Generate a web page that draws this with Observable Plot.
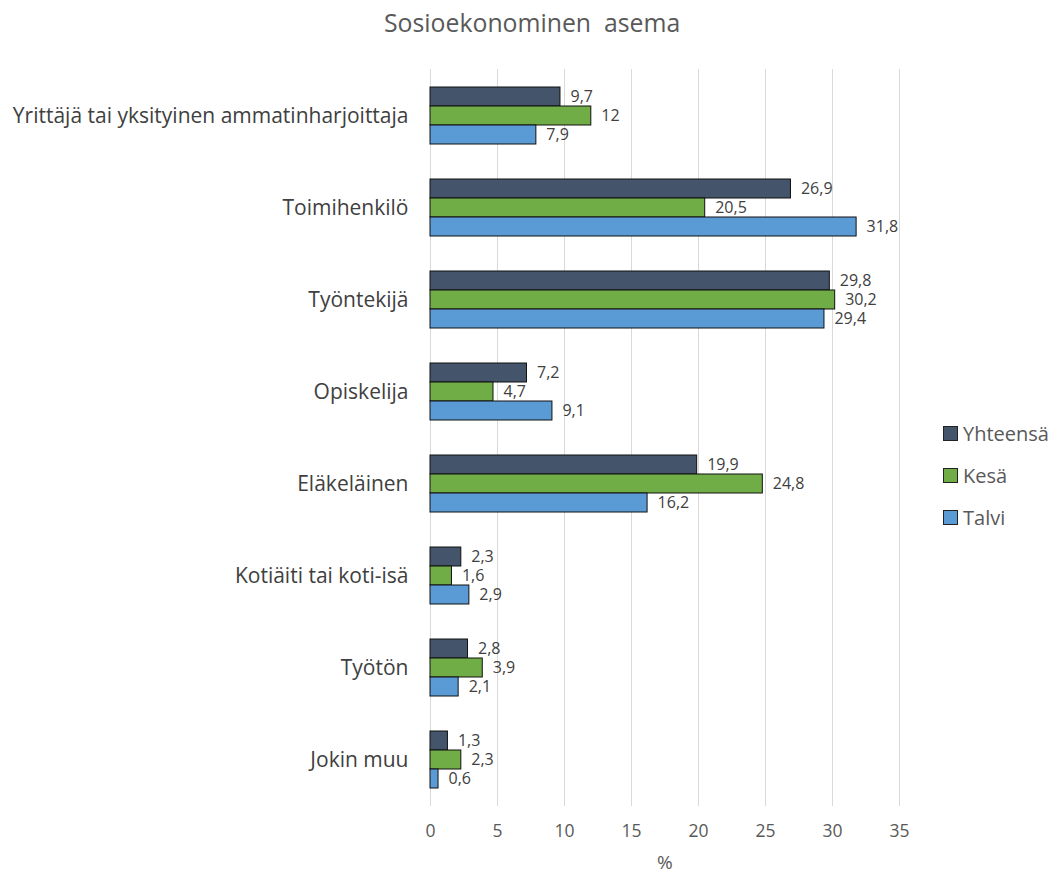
<!DOCTYPE html>
<html>
<head>
<meta charset="utf-8">
<script src="https://cdn.jsdelivr.net/npm/d3@7"></script>
<script src="https://cdn.jsdelivr.net/npm/@observablehq/plot@0.6"></script>
<style>
  body { margin: 0; background: #fff; font-family: "Open Sans", "Noto Sans", sans-serif; }
  #wrap { position: relative; width: 1054px; height: 876px; overflow: hidden; }
  #title { position: absolute; top: 5px; left: 384px; white-space: nowrap; font-size: 24.8px; color: #595959; }
  #legend { position: absolute; left: 943px; top: 412px; font-size: 20px; color: #595959; }
  #legend div { display: flex; align-items: center; height: 42px; white-space: nowrap; }
  #legend span.sw { display: inline-block; width: 13px; height: 13px; border: 1px solid #222; margin-right: 5px; }
  #xlabel { position: absolute; top: 849px; left: 657px; font-size: 19px; color: #595959; }
  #chart { position: absolute; left: 0; top: 0; }
</style>
</head>
<body>
<div id="wrap">
  <div id="chart"></div>
  <div id="title">Sosioekonominen&nbsp; asema</div>
  <div id="legend"></div>
  <div id="xlabel">%</div>
</div>
<script>
const categories = [
  "Yrittäjä tai yksityinen ammatinharjoittaja",
  "Toimihenkilö",
  "Työntekijä",
  "Opiskelija",
  "Eläkeläinen",
  "Kotiäiti tai koti-isä",
  "Työtön",
  "Jokin muu"
];
const series = ["Yhteensä", "Kesä", "Talvi"];
const colors = ["#44546A", "#70AD47", "#5B9BD5"];
const yhteensa = [9.7, 26.9, 29.8, 7.2, 19.9, 2.3, 2.8, 1.3];
const kesa = [12, 20.5, 30.2, 4.7, 24.8, 1.6, 3.9, 2.3];
const talvi = [7.9, 31.8, 29.4, 9.1, 16.2, 2.9, 2.1, 0.6];
const xTicks = [0, 5, 10, 15, 20, 25, 30, 35];

const valuesBySeries = [yhteensa, kesa, talvi];
const data = [];
categories.forEach((c, i) => {
  series.forEach((s, j) => {
    data.push({category: c, series: s, value: valuesBySeries[j][i]});
  });
});
const fmt = v => String(v).replace(".", ",");

const chart = Plot.plot({
  width: 1054,
  height: 876,
  marginTop: 67,
  marginBottom: 68,
  marginLeft: 430,
  marginRight: 155,
  style: {fontFamily: '"Open Sans", "Noto Sans", sans-serif', background: "#fff"},
  x: {domain: [0, 35]},
  y: {domain: series, padding: 0, axis: null},
  fy: {domain: categories, paddingInner: 0.385, paddingOuter: 0.19, axis: null},
  color: {domain: series, range: colors},
  marks: [
    Plot.ruleX(xTicks, {stroke: "#d9d9d9", strokeWidth: 1, insetTop: -18, insetBottom: -18}),
    Plot.barX(data, {x: "value", y: "series", fy: "category", fill: "series", stroke: "#111", strokeWidth: 1}),
    Plot.text(data, {x: "value", y: "series", fy: "category", text: d => fmt(d.value), dx: 10, textAnchor: "start", fontSize: 16, fill: "#404040"}),
    Plot.axisFy({anchor: "left", tickSize: 0, tickPadding: 22, fontSize: 21, color: "#404040", label: null}),
    Plot.axisX({ticks: xTicks, tickSize: 0, tickPadding: 36, fontSize: 17.5, color: "#595959", label: null, tickFormat: d => String(d)})
  ]
});
document.getElementById("chart").appendChild(chart);

const legend = document.getElementById("legend");
series.forEach((s, i) => {
  const row = document.createElement("div");
  const sw = document.createElement("span");
  sw.className = "sw";
  sw.style.background = colors[i];
  row.appendChild(sw);
  row.appendChild(document.createTextNode(s));
  legend.appendChild(row);
});
</script>
</body>
</html>
